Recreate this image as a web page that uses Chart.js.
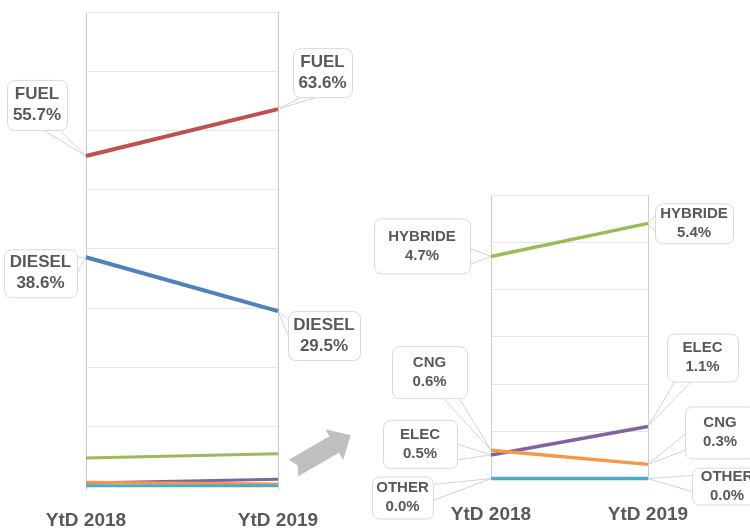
<!DOCTYPE html>
<html><head><meta charset="utf-8">
<script src="https://cdn.jsdelivr.net/npm/chart.js@4"></script>
<style>
html,body{margin:0;padding:0;width:750px;height:528px;overflow:hidden;background:#fff}
.wrap{position:absolute;left:0;top:0;width:750px;height:528px}
</style></head><body>
<div class="wrap"><canvas id="c1"></canvas></div>
<div class="wrap"><canvas id="c2"></canvas></div>
<script>
// ---- data ----
const categories = ['YtD 2018', 'YtD 2019'];
const fuel    = [55.7, 63.6];
const diesel  = [38.6, 29.5];
const hybride = [4.7, 5.4];
const elec    = [0.5, 1.1];
const cng     = [0.6, 0.3];
const other   = [0.0, 0.0];
const mainTicks = [0, 10, 20, 30, 40, 50, 60, 70, 80];
const zoomTicks = [0, 1, 2, 3, 4, 5, 6];

// ---- styles ----
const colors = { FUEL:'#c0504d', DIESEL:'#4f81bd', HYBRIDE:'#9bbb59', ELEC:'#8064a2', CNG:'#f79646', OTHER:'#4bacc6' };
const TEXT = '#595959';
const FONT = '"Liberation Sans", Arial, sans-serif';

// callout layout (offsets from the data point, box size, side of pointer)
const mainCallouts = [
  {s:'FUEL',   i:0, dx:-49,  dy:-51,  w:60, h:50, side:'bottom'},
  {s:'FUEL',   i:1, dx:44.5, dy:-36.5,w:59, h:49, side:'bottom'},
  {s:'DIESEL', i:0, dx:-45.5,dy:16,   w:73, h:48, side:'right'},
  {s:'DIESEL', i:1, dx:46,   dy:24.5, w:72, h:49, side:'left'}
];
const zoomCallouts = [
  {s:'HYBRIDE', i:0, dx:-69,  dy:-10.5, w:96, h:55, side:'right'},
  {s:'HYBRIDE', i:1, dx:46,   dy:0,     w:78, h:40, side:'left'},
  {s:'CNG',     i:0, dx:-61.5,dy:-78,   w:75, h:52, side:'bottom'},
  {s:'ELEC',    i:0, dx:-71,  dy:-11,   w:74, h:48, side:'right'},
  {s:'OTHER',   i:0, dx:-88.5,dy:19,    w:61, h:42, side:'right'},
  {s:'ELEC',    i:1, dx:54.5, dy:-69,   w:71, h:48, side:'bottom'},
  {s:'CNG',     i:1, dx:72,   dy:-32,   w:70, h:52, side:'left'},
  {s:'OTHER',   i:1, dx:79,   dy:7.5,   w:70, h:37, side:'left'}
];

function ds(name, values, width) {
  return { label:name, data:values, borderColor:colors[name], backgroundColor:colors[name],
           borderWidth:width, pointRadius:0, tension:0, clip:false };
}

function roundRect(ctx, x, y, w, h, r) {
  ctx.beginPath();
  ctx.moveTo(x + r, y);
  ctx.lineTo(x + w - r, y); ctx.quadraticCurveTo(x + w, y, x + w, y + r);
  ctx.lineTo(x + w, y + h - r); ctx.quadraticCurveTo(x + w, y + h, x + w - r, y + h);
  ctx.lineTo(x + r, y + h); ctx.quadraticCurveTo(x, y + h, x, y + h - r);
  ctx.lineTo(x, y + r); ctx.quadraticCurveTo(x, y, x + r, y);
  ctx.closePath();
}

const calloutPlugin = {
  id: 'callouts',
  beforeDatasetsDraw(chart, args, opts) {
    const ctx = chart.ctx;
    ctx.save();
    opts.items.forEach(c => {
      const di = chart.data.datasets.findIndex(d => d.label === c.s);
      const pt = chart.getDatasetMeta(di).data[c.i];
      const px = pt.x, py = pt.y;
      const cx = px + c.dx, cy = py + c.dy;
      const x0 = cx - c.w / 2, y0 = cy - c.h / 2, x1 = cx + c.w / 2, y1 = cy + c.h / 2;
      const r = 8, hw = 8;
      let b1, b2;
      if (c.side === 'bottom' || c.side === 'top') {
        const ey = c.side === 'bottom' ? y1 : y0;
        const bx = Math.min(Math.max(px, x0 + r + hw), x1 - r - hw);
        b1 = [bx - hw, ey]; b2 = [bx + hw, ey];
      } else {
        const ex = c.side === 'right' ? x1 : x0;
        const by = Math.min(Math.max(py, y0 + r + hw), y1 - r - hw);
        b1 = [ex, by - hw]; b2 = [ex, by + hw];
      }
      ctx.strokeStyle = '#d2d2d2';
      ctx.lineWidth = 1;
      ctx.beginPath();
      ctx.moveTo(b1[0], b1[1]); ctx.lineTo(px, py); ctx.lineTo(b2[0], b2[1]);
      ctx.stroke();
      roundRect(ctx, x0 + 0.5, y0 + 0.5, c.w, c.h, r);
      ctx.fillStyle = '#ffffff';
      ctx.fill();
      ctx.strokeStyle = '#d9d9d9';
      ctx.stroke();
      const ds0 = chart.data.datasets[di];
      const val = ds0.data[c.i].toFixed(1) + '%';
      ctx.fillStyle = TEXT;
      ctx.font = 'bold ' + opts.size + 'px ' + FONT;
      ctx.textAlign = 'center';
      ctx.textBaseline = 'middle';
      ctx.fillText(c.s, cx, cy - opts.lh / 2);
      ctx.fillText(val, cx, cy + opts.lh / 2);
    });
    ctx.restore();
  }
};

const arrowPlugin = {
  id: 'arrow',
  afterDraw(chart, args, opts) {
    if (!opts.show) return;
    const ctx = chart.ctx;
    ctx.save();
    ctx.translate(293.5, 468);
    ctx.rotate(Math.atan2(-33, 57.5));
    ctx.beginPath();
    ctx.moveTo(0, -9.5); ctx.lineTo(47, -9.5); ctx.lineTo(47, -17.8); ctx.lineTo(66, 0);
    ctx.lineTo(47, 17.8); ctx.lineTo(47, 9.5); ctx.lineTo(0, 9.5); ctx.lineTo(5, 0);
    ctx.closePath();
    ctx.fillStyle = '#bfbfbf';
    ctx.fill();
    ctx.restore();
  }
};

function makeOptions(pad, yMin, yMax, ticks, labelPad, callouts, size, lh, arrow) {
  return {
    responsive: true, maintainAspectRatio: false, animation: false,
    layout: { padding: pad },
    plugins: {
      legend: { display:false }, tooltip: { enabled:false },
      callouts: { items: callouts, size: size, lh: lh },
      arrow: { show: arrow }
    },
    scales: {
      x: {
        type:'category', offset:false,
        grid: { color:'#cccccc', drawTicks:false, lineWidth:1 },
        border: { display:false },
        ticks: { color: TEXT, padding: labelPad, maxRotation:0, autoSkip:false,
                 font: { family: FONT, size: 19, weight: 'bold', lineHeight: 1 } }
      },
      y: {
        min: yMin, max: yMax,
        afterBuildTicks: (s) => { s.ticks = ticks.map(v => ({ value: v })); },
        grid: { color:'#e6e6e6', drawTicks:false, lineWidth:1 },
        border: { display:false },
        ticks: { display:false }
      }
    }
  };
}

new Chart(document.getElementById('c1'), {
  type: 'line',
  data: { labels: categories, datasets: [
    ds('OTHER', other, 3), ds('CNG', cng, 3), ds('ELEC', elec, 3),
    ds('HYBRIDE', hybride, 3), ds('DIESEL', diesel, 4), ds('FUEL', fuel, 4)
  ]},
  options: makeOptions({left:86, right:472, top:12, bottom:-24}, -0.7, 80, mainTicks, 21.5, mainCallouts, 17, 21, true),
  plugins: [calloutPlugin, arrowPlugin]
});

new Chart(document.getElementById('c2'), {
  type: 'line',
  data: { labels: categories, datasets: [
    ds('OTHER', other, 3.5), ds('CNG', cng, 3.5), ds('ELEC', elec, 3.5), ds('HYBRIDE', hybride, 3.5)
  ]},
  options: makeOptions({left:491, right:102, top:195, bottom:-22.5}, -0.02, 6, zoomTicks, 26, zoomCallouts, 15, 19, false),
  plugins: [calloutPlugin, arrowPlugin]
});
</script>
</body></html>
